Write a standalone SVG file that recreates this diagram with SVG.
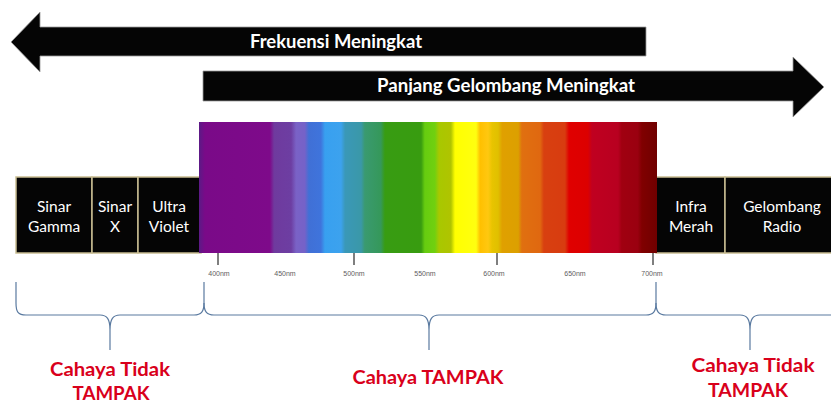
<svg xmlns="http://www.w3.org/2000/svg" width="831" height="403" viewBox="0 0 831 403">
<defs>
<style>
.arrow{fill:#050505;stroke:#9a9a9a;stroke-width:0.8}
.atext{font-family:Lato,"Liberation Sans",sans-serif;font-weight:bold;font-size:18px;fill:#ffffff;text-anchor:middle}
.box{fill:#050505;stroke:#c9bd92;stroke-width:1.5}
.btext{font-family:Lato,"Liberation Sans",sans-serif;font-size:15.5px;fill:#ffffff;text-anchor:middle}
.tick{stroke:#555555;stroke-width:1.5}
.nm{font-family:"Liberation Sans",Arial,sans-serif;font-size:7px;fill:#606060;text-anchor:middle}
.brace{fill:none;stroke:#5a7aa0;stroke-width:1.2}
.red{font-family:Lato,"Liberation Sans",sans-serif;font-weight:bold;font-size:18px;fill:#d9001b;text-anchor:middle}
</style>
<linearGradient id="spec" gradientUnits="userSpaceOnUse" x1="199" y1="0" x2="657" y2="0">
<stop offset="0" stop-color="#5b1a86"/>
<stop offset="0.013" stop-color="#7a0a88"/>
<stop offset="0.155" stop-color="#7e0a8a"/>
<stop offset="0.164" stop-color="#6f3a9e"/>
<stop offset="0.201" stop-color="#6d3ea2"/>
<stop offset="0.212" stop-color="#7a62c6"/>
<stop offset="0.231" stop-color="#7562c8"/>
<stop offset="0.240" stop-color="#4070d6"/>
<stop offset="0.266" stop-color="#3f74dc"/>
<stop offset="0.275" stop-color="#38a0f0"/>
<stop offset="0.310" stop-color="#3ca2ee"/>
<stop offset="0.319" stop-color="#3a98b8"/>
<stop offset="0.354" stop-color="#3a98a8"/>
<stop offset="0.362" stop-color="#3a9a70"/>
<stop offset="0.397" stop-color="#35985a"/>
<stop offset="0.406" stop-color="#389c12"/>
<stop offset="0.485" stop-color="#389c10"/>
<stop offset="0.493" stop-color="#66cc10"/>
<stop offset="0.515" stop-color="#70d010"/>
<stop offset="0.524" stop-color="#a8c800"/>
<stop offset="0.550" stop-color="#b0c400"/>
<stop offset="0.559" stop-color="#ffff00"/>
<stop offset="0.605" stop-color="#ffff10"/>
<stop offset="0.614" stop-color="#ffc000"/>
<stop offset="0.631" stop-color="#ffc810"/>
<stop offset="0.640" stop-color="#e8c400"/>
<stop offset="0.653" stop-color="#e0c000"/>
<stop offset="0.662" stop-color="#e0a000"/>
<stop offset="0.697" stop-color="#dca000"/>
<stop offset="0.705" stop-color="#e07010"/>
<stop offset="0.745" stop-color="#e06810"/>
<stop offset="0.753" stop-color="#d84010"/>
<stop offset="0.799" stop-color="#d83c10"/>
<stop offset="0.808" stop-color="#e00000"/>
<stop offset="0.849" stop-color="#dc0000"/>
<stop offset="0.858" stop-color="#c00020"/>
<stop offset="0.915" stop-color="#b80020"/>
<stop offset="0.923" stop-color="#a00010"/>
<stop offset="0.958" stop-color="#9a0010"/>
<stop offset="0.967" stop-color="#800000"/>
<stop offset="1" stop-color="#700000"/>
</linearGradient>
</defs>
<rect width="831" height="403" fill="#ffffff"/>

<g id="arrow-frekuensi">
<polygon class="arrow" points="11,42 40,12 40,27 646,27 646,56 40,56 40,72"/>
<text class="atext" x="336" y="48" textLength="172" lengthAdjust="spacingAndGlyphs">Frekuensi Meningkat</text>
</g>
<g id="arrow-panjang">
<polygon class="arrow" points="203,71 793,71 793,57 824,87 793,117 793,101 203,101"/>
<text class="atext" x="506" y="92" textLength="258" lengthAdjust="spacingAndGlyphs">Panjang Gelombang Meningkat</text>
</g>

<g id="box-gamma">
<rect class="box" x="16" y="177" width="76" height="76"/>
<text class="btext" x="54" y="212">Sinar</text>
<text class="btext" x="54" y="232">Gamma</text>
</g>
<g id="box-x">
<rect class="box" x="92" y="177" width="46" height="76"/>
<text class="btext" x="115" y="212">Sinar</text>
<text class="btext" x="115" y="232">X</text>
</g>
<g id="box-uv">
<rect class="box" x="138" y="177" width="63" height="76"/>
<text class="btext" x="169" y="212">Ultra</text>
<text class="btext" x="169" y="232">Violet</text>
</g>
<g id="box-ir">
<rect class="box" x="656" y="177" width="69" height="76"/>
<text class="btext" x="691" y="212">Infra</text>
<text class="btext" x="691" y="232">Merah</text>
</g>
<g id="box-radio">
<rect class="box" x="725" y="177" width="120" height="76"/>
<text class="btext" x="782" y="212">Gelombang</text>
<text class="btext" x="782" y="232">Radio</text>
</g>

<g id="spectrum">
<rect x="199" y="122" width="458" height="131" fill="url(#spec)"/>
<line class="tick" x1="218" y1="253" x2="218" y2="265"/>
<line class="tick" x1="354" y1="253" x2="354" y2="265"/>
<line class="tick" x1="497" y1="253" x2="497" y2="265"/>
<line class="tick" x1="653" y1="253" x2="653" y2="265"/>
<text class="nm" x="219" y="276">400nm</text>
<text class="nm" x="285" y="276">450nm</text>
<text class="nm" x="354" y="276">500nm</text>
<text class="nm" x="425" y="276">550nm</text>
<text class="nm" x="494" y="276">600nm</text>
<text class="nm" x="575" y="276">650nm</text>
<text class="nm" x="652" y="276">700nm</text>
</g>

<g id="connectors">
<path class="brace" d="M16,282 L16,303 C16,312 18,315 26,315 L100,315 C107,315 110,319 110,330 L110,350 M110,330 C110,319 113,315 120,315 L194,315 C201,315 204,312 204,303 L204,282"/>
<path class="brace" d="M204,303 C204,312 207,315 214,315 L419,315 C426,315 429,319 429,330 L429,350 M429,330 C429,319 432,315 439,315 L646,315 C653,315 656,312 656,303 L656,282"/>
<path class="brace" d="M656,303 C656,312 659,315 666,315 L740,315 C747,315 750,319 750,330 L750,350 M750,330 C750,319 753,315 760,315 L840,315"/>
</g>

<g id="label-left">
<text class="red" x="110" y="376" textLength="120" lengthAdjust="spacingAndGlyphs">Cahaya Tidak</text>
<text class="red" x="111" y="400" textLength="77" lengthAdjust="spacingAndGlyphs">TAMPAK</text>
</g>
<g id="label-mid">
<text class="red" x="428" y="384" textLength="151" lengthAdjust="spacingAndGlyphs">Cahaya TAMPAK</text>
</g>
<g id="label-right">
<text class="red" x="753" y="372" textLength="123" lengthAdjust="spacingAndGlyphs">Cahaya Tidak</text>
<text class="red" x="748" y="397" textLength="80" lengthAdjust="spacingAndGlyphs">TAMPAK</text>
</g>
</svg>
